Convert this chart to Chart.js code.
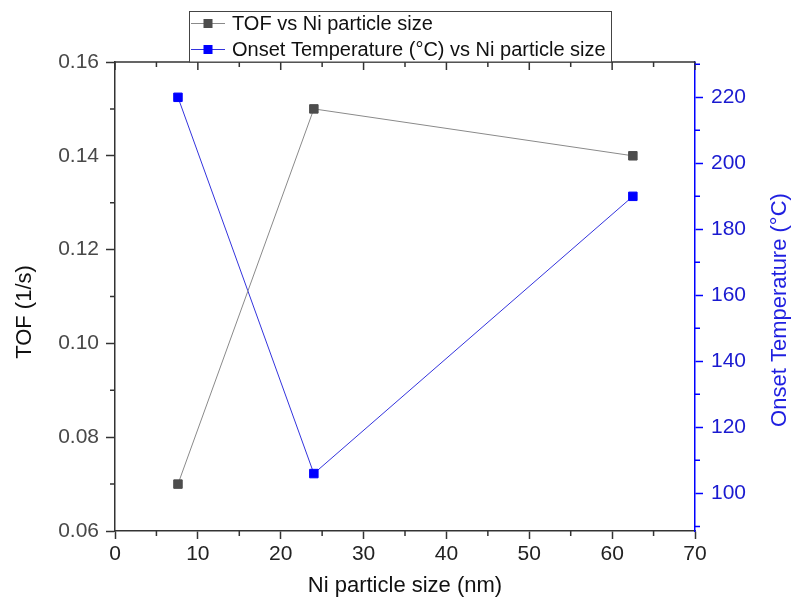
<!DOCTYPE html>
<html>
<head>
<meta charset="utf-8">
<script src="https://cdn.jsdelivr.net/npm/chart.js@4"></script>
<style>
  body { margin: 0; background: #fff; }
  #wrap { width: 798px; height: 607px; }
</style>
</head>
<body>
<div id="wrap"><canvas id="chart" width="798" height="607"></canvas></div>
<script>
// data
const particleSizes = [7.6, 24, 62.5];
const tofValues = [0.07, 0.15, 0.14];
const onsetValues = [220, 106, 190];

const xTicks = [0, 10, 20, 30, 40, 50, 60, 70];
const xMinorTicks = [5, 15, 25, 35, 45, 55, 65];
const tofTicks = [0.06, 0.08, 0.10, 0.12, 0.14, 0.16];
const tofMinorTicks = [0.07, 0.09, 0.11, 0.13, 0.15];
const onsetTicks = [100, 120, 140, 160, 180, 200, 220];
const onsetMinorTicks = [90, 110, 130, 150, 170, 190, 210, 230];

const legendLabels = ['TOF vs Ni particle size', 'Onset Temperature (°C) vs Ni particle size'];

const FONT = "'Liberation Sans', Arial, sans-serif";
const axisDark = '#333333';
const blue = '#0000ff';

function setTicks(values) {
    return function(scale) {
        scale.ticks = values.map(v => ({ value: v }));
    };
}

// minor ticks, top axis, legend box and the y titles
const extrasPlugin = {
    id: 'extras',
    afterDraw(chart) {
        const ctx = chart.ctx;
        const area = chart.chartArea;
        const x = chart.scales.x;
        const yl = chart.scales.y;
        const yr = chart.scales.y2;

        ctx.save();
        ctx.lineWidth = 1.5;

        // top axis line with inward ticks
        ctx.strokeStyle = axisDark;
        ctx.beginPath();
        ctx.moveTo(area.left, area.top);
        ctx.lineTo(area.right, area.top);
        xTicks.forEach(v => {
            const px = x.getPixelForValue(v);
            ctx.moveTo(px, area.top);
            ctx.lineTo(px, area.top + 8);
        });
        xMinorTicks.forEach(v => {
            const px = x.getPixelForValue(v);
            ctx.moveTo(px, area.top);
            ctx.lineTo(px, area.top + 5);
        });
        // bottom minor ticks
        xMinorTicks.forEach(v => {
            const px = x.getPixelForValue(v);
            ctx.moveTo(px, area.bottom);
            ctx.lineTo(px, area.bottom + 5);
        });
        // left minor ticks
        tofMinorTicks.forEach(v => {
            const py = yl.getPixelForValue(v);
            ctx.moveTo(area.left, py);
            ctx.lineTo(area.left - 5, py);
        });
        ctx.stroke();

        // right minor ticks
        ctx.strokeStyle = blue;
        ctx.beginPath();
        onsetMinorTicks.forEach(v => {
            if (v < yr.min || v > yr.max) return;
            const py = yr.getPixelForValue(v);
            ctx.moveTo(area.right, py);
            ctx.lineTo(area.right + 5, py);
        });
        ctx.stroke();

        // legend box
        const bx = 189.5, by = 11.5, bw = 422, bh = area.top - 11.5;
        ctx.fillStyle = '#ffffff';
        ctx.fillRect(bx, by, bw, bh);
        ctx.lineWidth = 1;
        ctx.strokeStyle = '#444444';
        ctx.strokeRect(bx, by, bw, bh);

        const rows = [
            { y: 23, line: '#8a8a8a', mark: '#4d4d4d' },
            { y: 49, line: '#3333dd', mark: blue }
        ];
        ctx.font = '20px ' + FONT;
        ctx.textBaseline = 'middle';
        rows.forEach((r, i) => {
            ctx.strokeStyle = r.line;
            ctx.lineWidth = 1;
            ctx.beginPath();
            ctx.moveTo(191, r.y + 0.5);
            ctx.lineTo(225, r.y + 0.5);
            ctx.stroke();
            ctx.fillStyle = r.mark;
            ctx.fillRect(203.5, r.y - 4, 9, 9);
            ctx.fillStyle = '#111111';
            ctx.fillText(legendLabels[i], 232, r.y + 1);
        });

        // y axis titles, both read bottom to top
        ctx.font = '22px ' + FONT;
        ctx.textAlign = 'center';
        ctx.textBaseline = 'middle';

        ctx.save();
        ctx.translate(25, 312);
        ctx.rotate(-Math.PI / 2);
        ctx.fillStyle = '#111111';
        ctx.fillText('TOF (1/s)', 0, 0);
        ctx.restore();

        ctx.save();
        ctx.translate(780, 310);
        ctx.rotate(-Math.PI / 2);
        ctx.fillStyle = '#1f1fe0';
        ctx.fillText('Onset Temperature (°C)', 0, 0);
        ctx.restore();

        ctx.restore();
    }
};

const ctx = document.getElementById('chart').getContext('2d');

new Chart(ctx, {
    type: 'line',
    data: {
        datasets: [
            {
                label: legendLabels[0],
                data: particleSizes.map((s, i) => ({ x: s, y: tofValues[i] })),
                yAxisID: 'y',
                borderColor: '#8a8a8a',
                borderWidth: 1,
                pointStyle: 'rect',
                pointRadius: 6,
                pointBackgroundColor: '#4d4d4d',
                pointBorderColor: '#4d4d4d',
                pointBorderWidth: 1,
                tension: 0
            },
            {
                label: legendLabels[1],
                data: particleSizes.map((s, i) => ({ x: s, y: onsetValues[i] })),
                yAxisID: 'y2',
                borderColor: '#3333dd',
                borderWidth: 1,
                pointStyle: 'rect',
                pointRadius: 6,
                pointBackgroundColor: blue,
                pointBorderColor: blue,
                pointBorderWidth: 1,
                tension: 0
            }
        ]
    },
    options: {
        responsive: false,
        animation: false,
        events: [],
        layout: {
            padding: { top: 62, left: 0, right: 0, bottom: 0 }
        },
        plugins: {
            legend: { display: false },
            title: { display: false },
            tooltip: { enabled: false }
        },
        scales: {
            x: {
                type: 'linear',
                position: 'bottom',
                min: 0,
                max: 70,
                afterBuildTicks: setTicks(xTicks),
                afterFit: (scale) => { scale.height = 76; },
                grid: {
                    drawOnChartArea: false,
                    drawTicks: true,
                    tickLength: 8,
                    tickWidth: 1.5,
                    tickColor: axisDark
                },
                border: { display: true, color: axisDark, width: 1.5 },
                ticks: {
                    color: '#222222',
                    font: { family: FONT, size: 21 },
                    padding: 3,
                    maxRotation: 0
                },
                title: {
                    display: true,
                    text: 'Ni particle size (nm)',
                    color: '#111111',
                    font: { family: FONT, size: 22 },
                    padding: { top: 0, bottom: 8 }
                }
            },
            y: {
                type: 'linear',
                position: 'left',
                min: 0.06,
                max: 0.16,
                afterBuildTicks: setTicks(tofTicks),
                afterFit: (scale) => { scale.width = 115; },
                grid: {
                    drawOnChartArea: false,
                    drawTicks: true,
                    tickLength: 9,
                    tickWidth: 1.5,
                    tickColor: axisDark
                },
                border: { display: true, color: axisDark, width: 1.5 },
                ticks: {
                    color: '#484848',
                    font: { family: FONT, size: 21 },
                    padding: 7,
                    callback: (v) => Number(v).toFixed(2)
                }
            },
            y2: {
                type: 'linear',
                position: 'right',
                min: 88.6,
                max: 230.7,
                afterBuildTicks: setTicks(onsetTicks),
                afterFit: (scale) => { scale.width = 103; },
                grid: {
                    drawOnChartArea: false,
                    drawTicks: true,
                    tickLength: 8,
                    tickWidth: 1.5,
                    tickColor: blue
                },
                border: { display: true, color: blue, width: 1.5 },
                ticks: {
                    color: '#1a1ad0',
                    font: { family: FONT, size: 21 },
                    padding: 8
                }
            }
        }
    },
    plugins: [extrasPlugin]
});
</script>
</body>
</html>
